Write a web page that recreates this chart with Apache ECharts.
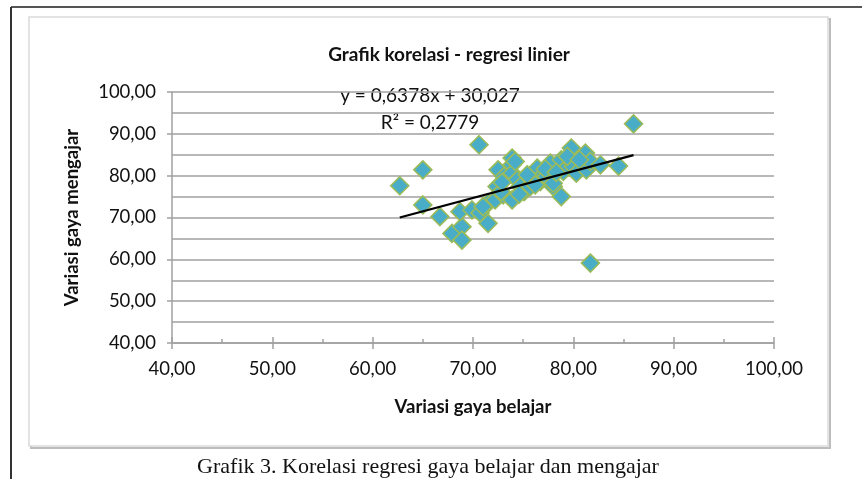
<!DOCTYPE html>
<html>
<head>
<meta charset="utf-8">
<script src="https://cdn.jsdelivr.net/npm/echarts@6/dist/echarts.min.js"></script>
<style>
html,body{margin:0;padding:0;background:#fff;}
#c{width:862px;height:479px;}
</style>
</head>
<body>
<div id="c"></div>
<script>
// Data
const xBelajar = [62.7,65.0,65.0,70.6,66.7,67.9,68.9,68.9,68.7,69.9,70.7,71.5,71.5,72.2,72.4,72.5,73.0,73.1,73.9,73.9,73.9,73.9,74.4,74.7,75.1,75.7,76.0,76.4,76.7,77.0,77.3,77.7,78.0,78.0,78.8,78.8,79.0,79.8,80.0,80.3,81.2,81.3,81.7,81.7,82.7,84.5,86.0,71.0,72.8,74.2,75.4,77.2,79.4,80.6,72.9,74.6,76.2,78.3];
const yMengajar = [77.6,81.4,73.0,87.4,70.2,66.2,67.8,64.6,71.4,71.8,71.1,68.6,73.4,74.2,77.4,81.4,75.4,79.8,84.2,82.6,80.6,74.2,79.0,77.4,76.2,77.4,79.0,81.8,78.6,80.2,79.8,83.0,77.4,78.2,83.8,75.0,81.0,86.6,82.2,80.6,85.4,81.4,83.4,59.1,82.6,82.3,92.4,72.6,76.2,83.4,80.2,81.6,84.6,83.8,78.4,75.6,77.8,80.8];
const trendX = [62.7, 86.0];
const trendY = [70.0, 84.9];
const axisTicks = [40,50,60,70,80,90,100];
const chartTitle = 'Grafik korelasi - regresi linier';
const xTitle = 'Variasi gaya belajar';
const yTitle = 'Variasi gaya mengajar';
const eqText = 'y = 0,6378x + 30,027';
const r2Text = 'R\u00B2 = 0,2779';
const caption = 'Grafik 3. Korelasi regresi gaya belajar dan mengajar';

const pts = xBelajar.map((x,i)=>[x,yMengajar[i]]);
const trend = trendX.map((x,i)=>[x,trendY[i]]);
const fmt = v => v.toFixed(2).replace('.', ',');
const F = 'Lato, "Open Sans", sans-serif';

const chart = echarts.init(document.getElementById('c'), null, {renderer:'canvas'});
chart.setOption({
  animation:false,
  backgroundColor:'#fff',
  grid:{left:172,right:88,top:92,bottom:136,containLabel:false},
  xAxis:[{
    type:'value',min:axisTicks[0],max:axisTicks[axisTicks.length-1],interval:10,
    axisLine:{show:true,onZero:false,lineStyle:{color:'#a0a0a0',width:1.5}},
    axisTick:{show:true,length:6,lineStyle:{color:'#a0a0a0',width:1.5}},
    axisLabel:{formatter:fmt,fontFamily:F,fontSize:18.5,color:'#111',margin:17},
    splitLine:{show:false},
    name:xTitle,nameLocation:'middle',nameGap:55,
    nameTextStyle:{fontFamily:F,fontWeight:'bold',fontSize:18.5,color:'#111'}
  },{
    type:'value',position:'bottom',min:axisTicks[0],max:axisTicks[axisTicks.length-1],interval:10,
    axisLine:{show:false,onZero:false},
    axisTick:{show:true,inside:true,length:6,lineStyle:{color:'#a0a0a0',width:1.5}},
    minorTick:{show:true,splitNumber:2,length:4,lineStyle:{color:'#a0a0a0',width:1.5}},
    axisLabel:{show:false},splitLine:{show:false}
  }],
  yAxis:{
    type:'value',min:axisTicks[0],max:axisTicks[axisTicks.length-1],interval:10,
    axisLine:{show:true,onZero:false,lineStyle:{color:'#a0a0a0',width:1.5}},
    axisTick:{show:true,length:5,lineStyle:{color:'#a0a0a0',width:1.5}},
    axisLabel:{formatter:fmt,fontFamily:F,fontSize:18.5,color:'#111',margin:16},
    splitLine:{show:true,lineStyle:{color:'#a0a0a0',width:1.6}},
    minorTick:{show:false,splitNumber:2},
    minorSplitLine:{show:true,lineStyle:{color:'#a0a0a0',width:1.6}},
    name:yTitle,nameLocation:'middle',nameGap:90,nameRotate:90,
    nameTextStyle:{fontFamily:F,fontWeight:'bold',fontSize:18.5,color:'#111'}
  },
  series:[{
    type:'scatter',data:pts,symbol:'diamond',symbolSize:18,
    itemStyle:{color:'#4AADC8',borderColor:'#9BBB59',borderWidth:1.6,opacity:1},
    z:2
  },{
    type:'line',data:trend,symbol:'none',
    lineStyle:{color:'#000',width:2.3},z:3
  }],
  graphic:[
    {type:'line',shape:{x1:11,y1:7,x2:862,y2:7},style:{stroke:'#555',lineWidth:2},silent:true},
    {type:'line',shape:{x1:11,y1:7,x2:11,y2:479},style:{stroke:'#333',lineWidth:2},silent:true},
    {type:'rect',shape:{x:31,y:19,width:799,height:429},style:{fill:'none',stroke:'#bdbdbd',lineWidth:2},silent:true,z:-1},
    {type:'rect',shape:{x:29,y:17,width:799,height:429},style:{fill:'#fff',stroke:'#dadada',lineWidth:1.5},silent:true,z:-1},
    {type:'text',x:449,y:55,style:{text:chartTitle,font:'bold 19px '+F,fill:'#111',textAlign:'center',textVerticalAlign:'middle'}},
    {type:'text',x:430,y:96,style:{text:eqText,font:'19px '+F,fill:'#111',textAlign:'center',textVerticalAlign:'middle'}},
    {type:'text',x:430,y:123,style:{text:r2Text,font:'19px '+F,fill:'#111',textAlign:'center',textVerticalAlign:'middle'}},
    {type:'text',x:428,y:467,style:{text:caption,font:'22px "Liberation Serif", "DejaVu Serif", serif',fill:'#111',textAlign:'center',textVerticalAlign:'middle'}}
  ]
});
</script>
</body>
</html>
